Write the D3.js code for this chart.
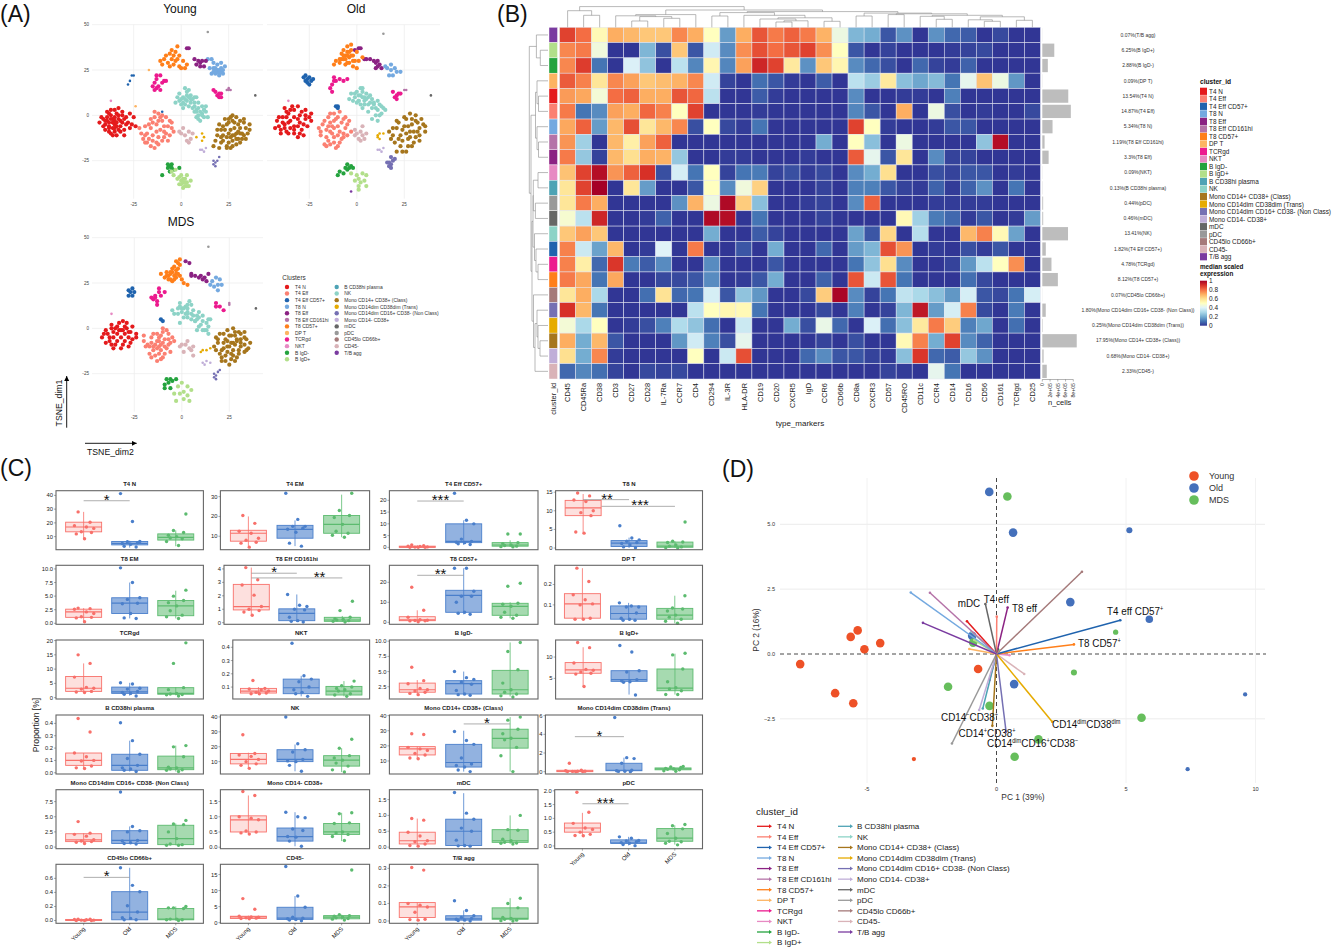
<!DOCTYPE html>
<html><head><meta charset="utf-8">
<script src="https://cdn.jsdelivr.net/npm/d3@7"></script>
<style>
html,body{margin:0;padding:0;background:#fff}
svg{display:block}
text{font-family:"Liberation Sans",Arial,sans-serif;fill:#111}
</style></head><body><svg id="c" width="1333" height="949"></svg>
<script>
/* ---------- shared ---------- */
const clusterNames=["T4 N","T4 Eff","T4 Eff CD57+","T8 N","T8 Eff","T8 Eff CD161hi","T8 CD57+","DP T","TCRgd","NKT","B IgD-","B IgD+","B CD38hi plasma","NK","Mono CD14+ CD38+ (Class)","Mono CD14dim CD38dim (Trans)","Mono CD14dim CD16+ CD38- (Non Class)","Mono CD14- CD38+","mDC","pDC","CD45lo CD66b+","CD45-","T/B agg"];
const clusterColors=["#e41a1c","#fb8072","#1f63ae","#74a9e0","#8b2283","#b573a8","#ff7f1a","#fdb462","#ec1a8e","#e78ac3","#24a33e","#b2df8a","#4ea3b5","#8dd3c7","#a6761d","#e6ab02","#7570b3","#c0aed8","#666666","#999999","#a57a7a","#d9b3b8","#7a3ba0"];
const clusterColor=d3.scaleOrdinal(clusterNames,clusterColors);

/* ---------- (A) t-SNE read-off points, flat x,y lists by cluster ---------- */
const tsneYoung={
"T4 N":[-36,-2,-38,-4,-35,-5,-33,-2,-37,0,-34,1,-31,-4,-39,-1,-36,-7,-33,-8,-40,-5,-37,-10,-34,-11,-30,-8,-29,-1,-31,2,-37,3,-33,4,-41,-2,-43,-4,-40,-8,-28,-4,-26,-5,-27,1,-35,-3,-32,-6,-38,-7,-24,-6,-30,-11,-25,-1,-39,-3,-37,-2,-35,-1,-33,0,-34,-4,-36,-4,-38,-6,-35,-7,-32,-3,-40,-3,-38,1,-35,3,-31,0,-29,-5,-32,-9,-35,-9,-38,-9,-41,-6,-27,-7,-30,-2,-39,2,-42,-1,-34,-6,-36,-11],
"T4 Eff":[-13,-5,-16,-7,-10,-3,-14,-1,-11,-8,-7,-6,-8,-10,-4,-9,-12,1,-16,-2,-8,-1,-18,-10,-15,-11,-20,-13,-18,-15,-16,-17,-21,-10,-13,-15,-10,-14,-7,-14,-19,-6,-5,-4,-22,-7,-12,-12,-14,-18,-12,-3,-15,-4,-9,-6,-6,-3,-11,-1,-13,-9,-9,-9,-5,-7,-17,-5,-17,-13,-19,-11,-15,-14,-12,-16,-9,-12,-6,-11,-14,2,-10,0,-19,-15],
"T4 Eff CD57+":[-26,22,-25,22,-27,19,-28,17,-10,2],
"T8 N":[19,25,17,26,21,26,19,28,16,23,20,22,22,23,18,23,23,27,15,26,21,29,17,29,14,31,16,31,19,24,21,24,18,26,20,25,18,24,22,25,17,24,20,23],
"T8 Eff":[8,28,10,29,12,27,11,30,9,30,13,30,7,31,10,27,3,37,4,37],
"T8 Eff CD161hi":[25,14,26,14,25,15,24,14],
"T8 CD57+":[-5,31,-7,29,-3,30,-9,31,-4,28,-1,27,0,26,2,26,-6,34,-3,35,-1,33,-8,33,-2,38,-5,36,1,30,3,28,-11,30,-10,28,-6,27,-2,31,-4,33],
"DP T":[-24,5,-17,25],
"TCRgd":[-13,15,-15,16,-11,14,-14,14,-12,16,-13,20,-11,22,-13,22,-9,19,-10,18,-14,18,-8,19,20,10,21,12,19,11,18,13,20,12,21,10,17,14],
"NKT":[-37,8],
"B IgD-":[-6,-28,-7,-29,-5,-29,-7,-27,-5,-27,-4,-30,-6,-31,-10,-33,-1,-29],
"B IgD+":[1,-37,0,-36,3,-37,-2,-35,-4,-33,2,-39,-1,-38,5,-36,-5,-31,2,-35,4,-39,1,-40,-3,-30,0,-33,3,-33,2,-37,0,-38,1,-35,3,-39,-1,-34],
"NK":[3,8,1,10,5,11,3,13,0,6,4,5,7,7,6,4,2,15,-2,10,-3,7,1,4,5,9,8,10,9,4,11,5,13,2,9,0,12,-1,10,-3,11,1,13,5,8,-1,14,-1,7,2,12,3,9,7,8,3,1,7,2,9,4,10,0,9,-1,8,5,7,2,6,6,9,3,11,7,10,10,2,12,3,11,0,8,2,9,-2,7,5,-1,12,4,14],
"Mono CD14+ CD38+ (Class)":[26,-8,29,-10,24,-12,27,-14,31,-7,33,-11,36,-8,28,-4,24,-5,21,-8,19,-11,18,-14,21,-15,24,-17,26,-18,29,-16,32,-13,34,-7,31,-3,27,0,29,-1,23,-2,20,-5,35,-10,22,-11,27,-11,30,-13,25,-15,20,-18,17,-17,31,-10,25,-2,33,-4,25,-10,28,-7,30,-9,27,-3,23,-8,26,-12,29,-13,32,-10,34,-13,22,-14,19,-8,25,-4,30,-5,33,-2,36,-5,24,-18,27,-17,28,-11,21,-12,31,-15,26,-1,22,-6],
"Mono CD14dim CD38dim (Trans)":[11,-10,12,-12,8,-12,11,-14],
"Mono CD14dim CD16+ CD38- (Non Class)":[18,-26,17,-27,18,-28,19,-25,20,-23,17,-25],
"Mono CD14- CD38+":[11,-19,12,-20,10,-19,13,-18],
"mDC":[39,11],"pDC":[14,46],
"CD45-":[0,-10,2,-11,4,-9,3,-14,5,-13,-1,-9,6,-10,4,-15,1,-7]};
const tsneOld={
"T4 N":[-38,-5,-35,-3,-41,-6,-33,-6,-30,-4,-27,-2,-36,1,-33,3,-30,0,-39,-1,-42,-3,-37,-9,-33,-10,-29,-8,-26,-6,-24,-3,-35,-7,-31,5,-27,3,-24,1,-38,4,-43,-7,-31,-12,-40,-10,-36,-4,-39,-4,-37,-1,-33,-1,-31,-2,-28,-5,-35,3,-29,2,-33,-8,-36,-10,-40,-8,-27,0,-31,-6,-41,-1,-37,2,-34,5,-25,-1,-30,-10,-28,-11,-38,-7],
"T4 Eff":[-12,-7,-14,-4,-9,-9,-11,-2,-16,-8,-8,-4,-6,-7,-5,-11,-9,2,-12,1,-15,-1,-18,-5,-20,-7,-16,-12,-12,-12,-8,-13,-14,-16,-17,-16,-10,-17,-6,-1,-13,-10,-19,-11,-7,-10,-10,-6,-13,-6,-15,-6,-12,-3,-7,-2,-5,-5,-10,-1,-17,-3,-19,-9,-14,-9,-10,-11,-7,-12,-15,-14,-12,-15,-9,-15,-11,-18,-16,-17,-3,-9,-4,-3,-14,1],
"T4 Eff CD57+":[-26,20,-25,21,-27,19,-24,19,-28,21,-26,18,-25,17,-23,20,-27,22,-10,5,-11,5,-10,4],
"T8 N":[18,25,20,26,17,22,19,22,21,24,16,26,23,24,18,28,15,27],
"T8 Eff":[10,29,11,27,10,26,9,30,12,28,13,26,7,31,5,31,4,31,11,30,-1,36,1,37,2,37],
"T8 Eff CD161hi":[25,14,26,14],
"T8 CD57+":[-6,33,-5,35,-7,31,-4,32,-8,34,-3,36,-5,38,-3,39,-2,33,-4,29,-9,29,-11,30,-12,28,-6,28,-2,27,0,26,1,30,-1,30,3,32,-7,36,0,35,-9,31,-5,33,-6,31,-3,33,-4,35,-7,33,-2,30,-5,29,-8,31],
"TCRgd":[-11,19,-12,21,-13,17,-14,15,-13,13,-9,20,-7,19,-5,20,-12,19,21,11,20,10,22,12,19,13,21,9,23,12],
"NKT":[-36,8],
"B IgD-":[-4,-29,-6,-29,-3,-28,-5,-27,-2,-29,-9,-31,-7,-32,-10,-33,-5,-30],
"B IgD+":[1,-35,2,-37,0,-33,4,-36,1,-39,5,-33,-1,-36,3,-32,-3,-32,1,-41,5,-39],
"NK":[1,11,3,13,-1,10,4,8,0,7,2,15,-3,12,5,12,6,6,8,9,3,4,6,2,10,4,12,6,14,4,13,1,10,0,8,-2,11,-3,-4,9,7,11,1,8,4,10,9,6,2,11,0,13,3,10,-2,8,5,9,1,8,4,6,6,10,7,7,8,4,-1,12,2,6,9,7,11,3,12,0,13,5,11,8,15,3,3,15],
"Mono CD14+ CD38+ (Class)":[28,-9,25,-6,31,-12,23,-11,33,-7,36,-9,29,-2,26,-2,21,-7,19,-11,17,-9,20,-15,23,-17,26,-20,29,-17,33,-14,35,-5,31,-3,27,-13,32,-9,22,-4,28,1,24,-20,21,-20,24,-8,27,-6,30,-9,33,-11,36,-6,32,-4,24,-14,27,-17,30,-15,22,-13,19,-7,21,-3,25,-1,31,0,34,-2,28,-12,26,-10,29,-5,18,-13],
"Mono CD14dim CD38dim (Trans)":[11,-11,12,-13,11,-12,14,-10,12,-10],
"Mono CD14dim CD16+ CD38- (Non Class)":[17,-26,18,-27,17,-28,19,-25,18,-23,16,-26,18,-29,20,-24],
"Mono CD14- CD38+":[11,-19,12,-19,13,-20,14,-18],
"mDC":[39,11],"pDC":[14,45],"T/B agg":[-3,-42],
"CD45-":[0,-10,2,-9,-1,-8,3,-11,1,-13,4,-13,3,-6,-1,-11,2,-14,5,-10]};
const tsneMDS={
"T4 N":[-32,-1,-29,0,-34,-3,-30,-3,-27,-2,-36,-2,-40,-1,-42,-5,-38,-5,-34,-7,-30,-7,-26,-6,-33,3,-29,3,-26,1,-37,2,-24,-3,-37,-9,-32,-11,-40,-8,-28,-10,-33,-1,-31,-1,-35,0,-28,-2,-36,-5,-32,-5,-28,-5,-39,-3,-41,-3,-35,-9,-31,-9,-27,-8,-34,1,-30,1,-31,4,-36,-11,-38,-7,-24,-5,-37,0],
"T4 Eff":[-11,-9,-13,-7,-9,-6,-15,-10,-11,-12,-8,-11,-6,-8,-4,-7,-10,-2,-13,-3,-16,-5,-7,-3,-18,-9,-20,-7,-14,-15,-10,-16,-17,-14,-6,-13,-13,-18,-10,0,-13,-11,-12,-7,-10,-8,-14,-9,-12,-10,-9,-10,-7,-9,-16,-8,-12,-5,-15,-12,-12,-14,-9,-14,-7,-6,-5,-5,-17,-10,-19,-10,-11,-4,-8,-1,-15,-3,-11,-17,-16,-16,-20,-4],
"T4 Eff CD57+":[-27,20,-28,18,-26,22,-28,21,-26,18,-25,20,-11,5,-10,4],
"T8 N":[17,23,19,24,16,26,20,27,21,24,18,28,19,21,15,24],
"T8 Eff":[9,28,11,27,10,29,12,28,13,26,5,30,5,29,7,29,14,30,2,37,4,36],
"T8 Eff CD161hi":[25,14,25,13],
"T8 CD57+":[-7,29,-5,31,-8,31,-3,30,-6,27,-2,33,-4,34,-2,36,-3,37,-11,30,-9,28,-5,26,-1,29,0,27,1,25,3,24,-3,28,-1,38,-6,30,-4,29,-7,27,-5,33,-3,32,-8,29,-6,31,-2,30,-4,27,-1,35],
"TCRgd":[-12,20,-14,18,-11,18,-12,22,-15,16,-13,15,-16,17,-9,20,-13,13,-14,17,18,14,20,12,22,10,18,12],
"NKT":[-37,8],
"B IgD-":[-9,-31,-7,-30,-6,-28,-5,-29,-8,-28,-3,-28,-9,-33,-6,-33],
"B IgD+":[1,-35,3,-37,-2,-32,3,-32,1,-39,5,-34,-1,-36,-4,-36,4,-40,0,-30,-3,-40],
"NK":[2,12,0,11,-5,10,3,8,-2,8,5,13,1,6,4,15,6,10,8,7,5,5,-1,14,9,9,11,4,9,1,12,-1,14,1,15,5,11,7,8,-1,14,-3,-1,3,7,4,3,9,1,11,3,11,-2,11,-4,8,0,9,2,8,5,8,3,6,7,4,6,7,9,6,10,2,13,3,-1,12,3,13,11,-1,13,-1,14,5,8,5],
"Mono CD14+ CD38+ (Class)":[26,-8,23,-6,29,-7,31,-10,27,-12,22,-11,19,-8,17,-10,20,-14,23,-15,26,-17,30,-14,34,-12,36,-8,33,-5,30,-2,27,0,24,-1,20,-3,18,-5,24,-10,28,-4,33,-9,25,-20,28,-18,21,-18,31,-6,25,-10,22,-8,28,-9,30,-12,26,-14,24,-13,21,-12,18,-12,19,-6,22,-3,25,-4,28,-2,31,-3,34,-6,35,-11,33,-13,29,-16,27,-15,23,-18,29,-6,27,-8,31,-8,24,-7,21,-16,26,-4,33,-2],
"Mono CD14dim CD38dim (Trans)":[11,-12,13,-12,15,-11,10,-13],
"Mono CD14dim CD16+ CD38- (Non Class)":[18,-26,17,-27,18,-28,19,-24,20,-23,17,-25],
"Mono CD14- CD38+":[11,-19,12,-20,13,-18,15,-19],
"mDC":[39,11],"pDC":[14,45],
"CD45-":[0,-9,2,-9,4,-11,5,-12,3,-7,6,-15,6,-10,-1,-10,1,-13]};
const tsnePanels=[["Young",tsneYoung],["Old",tsneOld],["MDS",tsneMDS]];
const tsneTicks=[-25,0,25];
const tsneYTicks=[50,25,0,-25];

/* ---------- (B) heatmap ---------- */
const markers=["CD45","CD45Ra","CD38","CD3","CD27","CD28","IL-7Ra","CCR7","CD4","CD294","IL-3R","HLA-DR","CD19","CD20","CXCR5","IgD","CCR6","CD66b","CD8a","CXCR3","CD57","CD45RO","CD11c","CCR4","CD14","CD16","CD56","CD161","TCRgd","CD25"];
const heatRows=["T/B agg","B IgD+","B IgD-","DP T","T4 N","T4 Eff","T8 N","T8 Eff CD161hi","T8 Eff","NKT","B CD38hi plasma","pDC","mDC","NK","T4 Eff CD57+","TCRgd","T8 CD57+","CD45lo CD66b+","Mono CD14dim CD16+ CD38- (Non Class)","Mono CD14dim CD38dim (Trans)","Mono CD14+ CD38+ (Class)","Mono CD14- CD38+","CD45-"];
const heatPct=["0.07","6.25","2.88","0.09","13.54","14.87","5.34","1.19","3.3","0.09","0.13","0.44","0.46","13.41","1.82","4.78","8.12","0.07","1.80","0.25","17.95","0.68","2.33"];
const heatValues=[
[.87,.8,.52,.7,.68,.65,.65,.76,.7,.5,.17,.7,.84,.78,.82,.78,.69,.44,.22,.2,.05,.15,0,.15,.08,.06,0,.03,0,0],
[.76,.78,.45,0,0,.22,.04,.65,.05,.37,.14,.75,.85,.8,.84,.87,.75,.5,.05,0,.02,0,0,0,.01,.02,.03,0,0,0],
[.76,.88,.1,0,.39,.25,0,.33,.13,.53,.13,.72,.92,.87,.57,.15,.65,.53,.14,.08,.04,0,.08,.02,.01,.07,0,0,0,0],
[.83,.77,.58,.76,.72,.65,.67,.69,.76,.37,.02,0,.09,.05,.01,0,.06,0,.33,.27,.57,.24,.19,.23,.1,.42,.66,.44,.16,0],
[.73,.71,.46,.8,.82,.7,.7,.84,.81,.33,0,0,.06,.01,0,0,0,0,.14,0,0,.01,.01,0,.12,0,0,0,0,0],
[.78,.1,.14,.72,.7,.81,.77,.5,.87,0,0,0,.01,0,0,0,0,0,.13,.05,0,.7,0,.44,.04,0,.01,0,0,.03],
[.71,.82,.17,.68,.85,.58,.68,.76,.04,.5,.03,.01,.1,0,0,0,0,0,.87,.5,.01,0,0,.01,.05,.05,0,0,0,0],
[.74,.28,0,.68,.55,.72,.82,0,0,0,0,0,0,0,0,0,.2,0,.5,.24,0,.44,0,0,0,0,.25,.97,0,0],
[.78,.26,.02,.68,.6,.7,.69,.26,0,0,.01,.01,0,0,0,.01,0,0,.83,.42,.05,.58,0,.14,.02,.02,0,0,0,0],
[.66,.87,.97,.74,.82,.9,.04,.38,.1,.5,.02,.1,.11,.02,.04,.01,.03,0,.14,.2,.6,0,0,.04,.02,.05,.05,0,.01,0],
[.58,.87,1,0,.58,.17,0,0,.05,.5,.14,.45,.63,0,0,0,.02,0,.12,.12,.05,.02,.01,.07,.01,.07,.15,0,.1,0],
[.58,.78,.7,0,0,0,0,.15,.69,.44,.98,.64,.24,0,0,.01,.02,0,.14,.82,0,0,0,.01,.01,.01,.01,0,0,0],
[.47,.33,.92,0,0,.01,.07,0,0,.98,.97,0,.1,0,0,0,.02,0,0,0,0,.52,.28,.11,.08,.01,.05,0,.01,.17],
[.65,.72,.65,0,0,0,0,0,0,.2,0,0,.06,.02,0,0,0,0,.18,.05,.62,0,.32,0,0,.68,.77,.52,.18,0],
[.77,.36,.18,.68,0,.01,.4,0,.78,0,0,.05,0,.2,0,0,.08,0,.17,.22,.85,.74,0,.01,0,.04,.01,.05,0,0],
[.77,.55,.08,.89,.11,.06,.14,0,0,.14,0,0,0,.05,0,0,0,0,.1,.25,.6,.14,0,0,.02,.16,.33,.5,.75,0],
[.78,.71,.1,.71,0,0,.03,.03,.05,.14,0,.01,.05,.2,0,0,.07,0,.84,.36,.84,.1,0,0,0,.09,.03,0,0,0],
[.58,.7,.3,0,0,.09,.59,.08,.1,.38,.05,.25,.16,0,0,.03,.64,.99,.14,.02,.1,.34,.3,.24,.16,.38,.05,.03,.1,.38],
[.9,.68,.1,0,0,0,0,0,.33,.5,.53,.52,.1,0,0,0,.03,0,.12,0,.02,.22,.95,.17,.38,.77,.03,0,.11,0],
[.46,.3,.5,0,.01,.04,.12,.31,.25,.09,0,.36,0,0,.2,.04,.43,.08,0,.39,.09,.24,.57,.78,.64,.12,.19,0,.09,0],
[.7,.2,.68,.05,0,0,0,.16,.37,.12,.04,.42,0,0,0,0,.02,0,.04,0,0,.52,.77,.2,.87,.14,.07,0,0,0],
[.6,.2,.76,.01,0,0,0,0,.5,0,.36,.85,0,0,0,.08,.14,.05,.05,.02,.01,.24,.89,.08,.06,.26,.15,0,0,0],
[.08,.13,.09,.02,0,.03,.02,.03,0,0,0,0,0,0,0,0,0,0,0,0,.02,.01,0,.42,.1,0,0,0,0,0]];
const heatStops=["#313695","#4575b4","#74add1","#abd9e9","#e0f3f8","#ffffbf","#fee090","#fdae61","#f46d43","#d73027","#a50026"];
const cellsPerPct=49500;
const cellTicks=[0,2e5,4e5,6e5,8e5];
const legendTicks=[0,.2,.4,.6,.8,1];
/* dendrograms: [merge height, left, right]; numbers are leaves */
const colTree=[20.7,[16.6,0,[12,1,2]],[17.3,[12.7,[11.5,3,[10.7,[6.3,4,5],[9,6,7]]],8],[15.7,[14.7,[11.3,9,10],[12,11,[9.5,[8.3,12,[6.5,[5.3,13,14],15]],[6,16,17]]]],[14.2,[11.3,18,19],[13.5,[12.7,20,21],[12,[11,22,[8,23,24]],[10.5,[7.5,25,[6,26,27]],[7,28,29]]]]]]]];
const rowTree=[18.7,[11.6,0,[7.7,1,2]],[17,[12.5,[11,3,[9.5,4,5]],[11,6,[9.5,7,8]]],[16,[15,[14.7,[10,9,10],[12.6,11,12]],[13.5,13,[12,14,[10,15,16]]]],[14.5,17,[13,[11,18,[10,19,[8,20,21]]],22]]]]];

/* ---------- (C) proportions: [whisker low,q1,median,q3,whisker high] and points for Young,Old,MDS ---------- */
const groups=["Young","Old","MDS"];
const groupColors=["#f8706a","#4a7fcb","#5cbb6f"];
const jitter=[-.12,.14,-.2,.06,.22,-.05,.17,-.16,.02];
const facetNames=["T4 N","T4  EM","T4 Eff CD57+","T8 N","T8 EM","T8 Eff CD161hi","T8 CD57+","DP T","TCRgd","NKT","B IgD-","B IgD+","B CD38hi plasma","NK","Mono CD14+ CD38+ (Class)","Mono CD14dim CD38dim (Trans)","Mono CD14dim CD16+ CD38- (Non Class)","Mono CD14- CD38+","mDC","pDC","CD45lo CD66b+","CD45-","T/B agg"];
const facetDomains=[[.5,43.4],[3.2,33],[-1,24.1],[-.45,15.4],[-.18,10.67],[-.12,4.27],[-1,28.5],[.005,.294],[-.47,20.2],[.01,.455],[.48,10.2],[.16,14],[-.01,.468],[1.7,41.3],[1.4,40.4],[-.25,6.07],[-.27,9.47],[-.05,1.89],[-.05,1.81],[-.1,2.04],[-.04,.8],[-.2,18.2],[-.013,.323]];
const facetTicks=[[10,20,30,40],[10,20,30],[0,5,10,15,20],[0,5,10,15],[0,2.5,5,7.5,10],[0,1,2,3,4],[0,10,20],[.1,.2],[0,5,10,15,20],[.1,.2,.3,.4],[2.5,5,7.5,10],[5,10],[0,.1,.2,.3,.4],[10,20,30,40],[10,20,30,40],[0,2,4,6],[0,2.5,5,7.5],[0,.5,1,1.5],[0,.5,1,1.5],[0,.5,1,1.5,2],[0,.2,.4,.6],[0,5,10,15],[0,.1,.2,.3]];
const facetTickFmt=[0,0,0,0,1,0,0,1,0,1,1,0,1,0,0,0,1,1,1,1,1,0,1];
const facetBoxes=[
[[8,13.5,17,20.5,28],[2,4,5,6.5,7],[3,7.5,9.5,12,14.5]],
[[4.5,7.5,11.5,13,20],[5,9,13.5,15.5,18],[9.5,11.5,16,20.5,31]],
[[0,0,.2,.5,1],[1,2,2.5,10,11.5],[.2,.5,1,2,3]],
[[4,8.7,10.8,12.8,14.5],[0,.4,1.3,2,2.8],[0,.2,.5,1.6,1.8]],
[[.3,1.1,2.1,2.6,2.8],[.9,1.8,3.7,4.7,7.5],[.9,1.4,3.2,4.2,6]],
[[.6,.95,1.2,2.85,4.1],[.05,.15,.7,1.03,2.1],[.05,.1,.2,.4,.5]],
[[.5,.8,1.2,2.8,6],[4,5,13.5,16,27],[2,3.5,8,9.5,10]],
[[.03,.035,.105,.155,.28],[.025,.03,.058,.095,.11],[.01,.03,.05,.083,.145]],
[[2,2.2,3.3,7.4,12],[.7,1.5,2,3.7,5.2],[.8,1.2,1.5,3.5,3.7]],
[[.05,.055,.07,.09,.1],[.03,.05,.095,.16,.185],[.03,.04,.07,.105,.145]],
[[1.2,1.6,2,3.1,3.6],[1.1,1.3,3,3.5,5],[.9,1.3,2,5.2,9.8]],
[[3,6.2,7,8.7,12.3],[1.2,4.3,4.7,6.8,6.8],[1.2,2.1,2.7,7.2,10.8]],
[[.03,.06,.1,.16,.16],[.01,.02,.06,.15,.26],[.01,.025,.04,.135,.22]],
[[5.5,8.5,11.5,15.5,16],[3.5,10,11.5,18,21.5],[3,7,11,14,19]],
[[11.5,14,18,19.5,19.5],[3,6,9,21,30],[3,18.5,25,31,39]],
[[0,0,.05,.15,.2],[0,.1,.15,.9,1.5],[.1,.2,.3,.4,.5]],
[[.6,.9,1.2,2.2,2.3],[.5,.6,1.1,2.7,3.4],[.3,.4,1.4,3.6,3.9]],
[[.45,.5,.9,1.03,1.7],[.03,.2,.35,.63,1.15],[.2,.42,.5,.78,1.13]],
[[.05,.1,.2,.47,.9],[.03,.05,.5,.88,1.7],[.1,.15,.2,.55,1]],
[[.35,.5,.65,.83,1.2],[.02,.1,.1,.22,.33],[.05,.17,.28,.63,.75]],
[[0,0,.005,.015,.02],[.01,.01,.12,.41,.75],[0,.01,.02,.17,.2]],
[[1,1.3,1.8,2,2.2],[.6,1,1.4,4.8,8.3],[1,1.2,1.7,2.2,2.5]],
[[.005,.02,.08,.105,.105],[0,.005,.012,.03,.06],[0,.01,.015,.075,.13]]];
const facetPoints=[
[[28,20.5,18,17,16,13.5,13,12,8.5],[41.3,21,6.5,6.3,5.5,5,4.5,3,2.5],[26.5,14.5,13,11,10,9,8.5,6.5,3.5]],
[[20.5,16.5,12.5,11.5,9,8,7,6.5,4.5],[31.7,18.5,15,15,14,13.5,12,6.5,5],[31.7,23,20.5,19.5,16,12.5,11.5,10.5,9.5]],
[[1,.7,.5,.4,.2,.1,0,0,0],[23,11.5,10,3.5,2.5,2.2,2,1.5,1.2],[5.7,5.7,2,1.5,1,.8,.5,.3,.2]],
[[14.8,14,12.9,12.5,10,9.5,8.7,4.3,4],[6,2.7,2.2,1.8,1.5,1.2,.8,.3,.1],[7,1.8,1.6,1.5,.8,.5,.3,.1,0]],
[[2.8,2.7,2.6,2.1,1.8,1.2,1.1,1,.3],[10.2,7.5,4.7,4.4,3.7,3.6,1.8,1,.9],[6.1,5,4.2,3.8,3.2,2.3,1.5,1.2,.9]],
[[4.1,3.2,2.8,2.05,1.2,1,.9,.8,.55],[2.1,1.3,1.2,1,.95,.4,.15,.1,.05],[1.6,.9,.4,.3,.25,.2,.15,.1,.05]],
[[17.5,6,2.5,1.3,1,.9,.8,.7,.3],[27,27,15.5,13,13,10,5,4.5,4],[19.5,18,9.5,9,8,5,3.5,2.5,2]],
[[.28,.215,.15,.125,.105,.1,.035,.03,.03],[.11,.095,.09,.09,.06,.035,.03,.025,.025],[.145,.085,.08,.07,.05,.04,.03,.02,.01]],
[[15,12,7.2,3.6,3.3,3,2.2,2,1.8],[5.2,4.8,3.3,3,2.2,1.8,1.5,1.2,.6],[19.2,12,3.5,2.8,1.5,1.3,1.1,1,.6]],
[[.15,.09,.085,.08,.07,.06,.055,.05,.05],[.43,.185,.16,.14,.1,.08,.06,.05,.03],[.145,.11,.1,.09,.08,.07,.05,.04,.03]],
[[5.7,3.5,3,2.2,2,1.8,1.6,1.4,1.2],[5,4,3.7,3.3,2.9,1.9,1.3,1.2,1.1],[9.8,8.3,5.3,3.1,2,1.6,1.3,1,.8]],
[[13.4,12.2,8.6,7.1,6.9,6.5,6.2,6,3.1],[12.7,11.2,6.8,6.5,4.7,4.4,4.2,4.1,1.1],[10.9,10.5,7.2,4.2,2.8,2.5,2.1,1.2,1.2]],
[[.44,.33,.16,.13,.1,.095,.055,.04,.035],[.405,.26,.15,.115,.06,.04,.03,.02,.01],[.22,.21,.13,.045,.04,.03,.025,.02,.01]],
[[28,15.5,14.5,13.5,11.5,10,8.5,7.5,5.5],[40,22,18,16.5,11.5,10.5,10,7.5,3.5],[25,19,14,12.5,11,9,7,4.5,3]],
[[28,27.5,19,18,17,15,14,12,11.5],[29.5,23.5,21,12,8,7,6,4,3],[39,37,31,28,25,24,19,13.5,3]],
[[.9,.15,.1,.05,.05,.03,.02,.01,0],[5.8,1.5,1.4,.9,.15,.1,.05,.03,0],[.55,.5,.45,.35,.3,.25,.2,.1,.05]],
[[4.2,2.3,2.1,1.8,1.2,1,.9,.8,.6],[9.1,3.4,2.7,2.5,1.1,1,.7,.6,.5],[4.4,3.8,3.7,2.5,1.4,.5,.4,.3,.3]],
[[1.83,1.7,1,.95,.9,.53,.5,.47,.43],[1.15,1,.97,.6,.55,.35,.33,.2,.03],[1.13,1.1,.8,.78,.5,.47,.42,.35,.22]],
[[.9,.85,.47,.35,.2,.17,.1,.05,.03],[1.72,1.07,.88,.6,.5,.22,.05,.04,.03],[1,.55,.53,.25,.2,.15,.13,.12,.1]],
[[1.95,1.22,.82,.65,.6,.5,.42,.38,.37],[.33,.28,.2,.18,.15,.12,.1,.05,.01],[.78,.73,.62,.45,.28,.17,.15,.1,.04]],
[[.02,.02,.015,.01,.005,.005,0,0,0],[.75,.5,.41,.21,.12,.04,.03,.01,.01],[.2,.18,.17,.18,.02,.02,.01,.01,0]],
[[7.5,4.2,2,1.8,1.7,1.5,1.4,1.3,1.2],[17.5,8.3,4.8,1.7,1.4,1.2,1,.8,.6],[16.4,2.5,2.2,2,1.7,1.5,1.3,1.1,.8]],
[[.305,.29,.1,.09,.08,.05,.01,.008,.005],[.115,.06,.03,.02,.015,.01,.005,.003,0],[.13,.1,.075,.02,.015,.01,.005,.002,0]]];
/* significance: facet index, y value, from group, to group, stars, star position in group units */
const sigBars=[[0,36.1,0,1,"*",.5],[2,19.7,0,1,"***",.5],[3,13,0,1,"**",.52],[3,11.2,.4,2,"***",1.24],[5,3.68,0,1,"*",.5],[5,3.33,0,2,"**",1.5],[6,23.5,0,1,"**",.5],[14,34.5,1,2,"*",1.5],[15,3.75,0,1,"*",.5],[19,1.53,0,1,"***",.5],[20,.614,0,1,"*",.5]];

/* ---------- (D) PCA ---------- */
const pcaGroups=["Young","Old","MDS"];
const pcaColors=["#ee5127","#4470bb","#66be5c"];
const pcaYoung=[[-7.58,-.39,4],[-6.23,-1.51,4],[-5.53,-1.9,4],[-5.63,.66,4],[-5.36,.91,4],[-5.1,.18,4],[-4.49,.42,4],[-.71,-.58,4],[-3.19,-4.05,1]];
const pcaOld=[[-.28,6.25,4],[.64,4.68,4],[5.13,4.77,2],[2.85,2,4],[5.9,1.34,3],[-.94,.7,4],[.68,-1.16,4],[9.6,-1.56,1],[7.38,-4.44,1]];
const pcaMDS=[[.42,6.07,4],[4.6,.84,1.5],[2.99,-.71,2],[-1.87,-1.26,4],[-.27,-2,4],[-.9,.44,4],[5.6,-2.46,4],[1.62,-3.29,4],[.7,-3.96,4]];
const pcaLoadNames=["NK","B IgD+","B IgD-","NKT","CD45-","TCRgd","B CD38hi plasma","Mono CD14- CD38+","pDC","Mono CD14+ CD38+ (Class)","Mono CD14dim CD16+ CD38- (Non Class)","Mono CD14dim CD38dim (Trans)","DP T","T8 CD57+","T4 Eff CD57+","T8 Eff","T4 Eff","mDC","T4 N","CD45lo CD66b+","T8 Eff CD161hi","T8 N","T/B agg"];
const pcaLoadX=[-.97,-.86,.06,.5,1.07,-.27,-.53,-.67,-1.72,-.16,.37,2.15,-1.05,2.99,4.78,.43,.01,-.43,-1.14,3.3,-2.57,-3.31,-2.84];
const pcaLoadY=[.86,.54,.18,-.05,-.77,-1,-2.1,-2.16,-3.45,-2.77,-3,-2.61,.19,.37,1.3,1.79,1.44,1.93,1.26,3.17,2.36,2.37,1.2];
const pcaXTicks=[-5,0,5,10];
const pcaYTicks=[5,2.5,0,-2.5];

/* ---------- drawing ---------- */
const svg=d3.select("#c");
const addText=(g,x,y,s,size,o={})=>{const t=g.append("text").attr("x",x).attr("y",y).text(s).style("font-size",size+"px");
  if(o.anchor)t.attr("text-anchor",o.anchor);if(o.rot!=null)t.attr("transform",`rotate(${o.rot} ${x} ${y})`);
  if(o.weight)t.style("font-weight",o.weight);if(o.fill)t.style("fill",o.fill);return t;};

[["(A)",0,22],["(B)",497,22],["(C)",0,476],["(D)",722,477]].forEach(d=>addText(svg,d[1],d[2],d[0],23));

/* (A) */
const tsneLayout=[{x0:133.7,y0:24.7,l:92,r:263,tx:180,ty:13},{x0:309.3,y0:24.7,l:267,r:440,tx:356,ty:13},{x0:134.3,y0:237.7,l:92,r:263,tx:181,ty:226}];
tsnePanels.forEach(([name,data],pi)=>{
  const L=tsneLayout[pi],g=svg.append("g");
  const x=d3.scaleLinear().domain([-25,25]).range([L.x0,L.x0+95]);
  const y=d3.scaleLinear().domain([50,-25]).range([L.y0,L.y0+136]);
  tsneYTicks.forEach(t=>g.append("line").attr("x1",L.l).attr("x2",L.r).attr("y1",y(t)).attr("y2",y(t)).attr("stroke","#ededed").attr("stroke-width",.8));
  tsneTicks.forEach(t=>{g.append("line").attr("x1",x(t)).attr("x2",x(t)).attr("y1",L.y0).attr("y2",L.y0+174).attr("stroke","#ededed").attr("stroke-width",.8);
    addText(g,x(t),L.y0+181,t,4.6,{anchor:"middle",fill:"#444"});});
  if(pi!==1)tsneYTicks.forEach(t=>addText(g,L.l-3,y(t)+1.6,t,4.6,{anchor:"end",fill:"#444"}));
  addText(svg,L.tx,L.ty,name,12,{anchor:"middle"});
  Object.entries(data).forEach(([c,pts])=>{
    const big=pts.length>14;
    for(let i=0;i<pts.length;i+=2)
      g.append("circle").attr("cx",x(pts[i])).attr("cy",y(pts[i+1])).attr("r",big?2.1:1.3).attr("fill",clusterColor(c));
  });
});
const arrowMark=svg.append("defs").append("marker").attr("id","ah").attr("markerWidth",6).attr("markerHeight",6).attr("refX",5).attr("refY",2.5).attr("orient","auto").attr("markerUnits","userSpaceOnUse");
arrowMark.append("path").attr("d","M0,0L5,2.5L0,5Z").attr("fill","#000");
svg.append("line").attr("x1",66.7).attr("x2",66.7).attr("y1",427.7).attr("y2",376).attr("stroke","#000").attr("stroke-width",.9).attr("marker-end","url(#ah)");
svg.append("line").attr("x1",85).attr("x2",136.7).attr("y1",443.3).attr("y2",443.3).attr("stroke","#000").attr("stroke-width",.9).attr("marker-end","url(#ah)");
addText(svg,62,403,"TSNE_dim1",8.7,{anchor:"middle",rot:-90});
addText(svg,87,454.5,"TSNE_dim2",8.7);
addText(svg,282.3,280,"Clusters",6.4,{fill:"#333"});
clusterNames.forEach((n,i)=>{const col=i<12?0:1,r=col?i-12:i;
  const cx=col?336.7:287,yy=287+r*6.57;
  svg.append("circle").attr("cx",cx).attr("cy",yy).attr("r",2.2).attr("fill",clusterColor(n));
  addText(svg,col?344.3:295,yy+1.8,n,4.95,{fill:"#333"});
});

/* (B) */
const hm=svg.append("g");
const hx=d3.scaleBand().domain(markers).range([559.6,1040.4]);
const hy=d3.scaleBand().domain(heatRows).range([27.3,379]);
const heatColor=d3.scaleLinear().domain(heatStops.map((_,i)=>i/10)).range(heatStops);
heatValues.forEach((row,ri)=>row.forEach((v,ci)=>{
  hm.append("rect").attr("x",hx(markers[ci])).attr("y",hy(heatRows[ri])).attr("width",hx.bandwidth()).attr("height",hy.bandwidth())
    .attr("fill",heatColor(v)).attr("stroke","#e4e6f2").attr("stroke-width",.5);
}));
heatRows.forEach(r=>hm.append("rect").attr("x",549).attr("y",hy(r)).attr("width",8.5).attr("height",hy.bandwidth()).attr("fill",clusterColor(r)).attr("stroke","#fff").attr("stroke-width",.4));
markers.forEach(m=>addText(hm,hx(m)+hx.bandwidth()/2+2.6,383,m,7.4,{anchor:"end",rot:-90,fill:"#222"}));
addText(hm,555.5,383,"cluster_id",7.4,{anchor:"end",rot:-90,fill:"#222"});
addText(hm,800,426,"type_markers",8,{anchor:"middle",fill:"#222"});
/* dendrograms */
function layoutTree(t,pos){ if(typeof t==="number")return{c:pos(t),h:0,seg:[]};
  const a=layoutTree(t[1],pos),b=layoutTree(t[2],pos);
  return{c:(a.c+b.c)/2,h:t[0],seg:[...a.seg,...b.seg,[a.c,a.h,a.c,t[0]],[a.c,t[0],b.c,t[0]],[b.c,b.h,b.c,t[0]]]};}
const colCenter=i=>hx(markers[i])+hx.bandwidth()/2, rowCenter=i=>hy(heatRows[i])+hy.bandwidth()/2;
layoutTree(colTree,colCenter).seg.forEach(s=>hm.append("line").attr("x1",s[0]).attr("x2",s[2]).attr("y1",27.3-s[1]).attr("y2",27.3-s[3]).attr("stroke","#8a8a8a").attr("stroke-width",.6));
layoutTree(rowTree,rowCenter).seg.forEach(s=>hm.append("line").attr("y1",s[0]).attr("y2",s[2]).attr("x1",548-s[1]).attr("x2",548-s[3]).attr("stroke","#8a8a8a").attr("stroke-width",.6));
/* n_cells */
const nx=d3.scaleLinear().domain([0,8e5]).range([1042.3,1073.3]);
heatRows.forEach((r,i)=>{const v=+heatPct[i]*cellsPerPct;
  hm.append("rect").attr("x",nx(0)).attr("y",hy(r)+1).attr("width",nx(v)-nx(0)).attr("height",hy.bandwidth()-2).attr("fill","#bdbdbd");
  addText(hm,1138,hy(r)+hy.bandwidth()/2+1.7,`${heatPct[i]}%(${r})`,5,{anchor:"middle",fill:"#333"});
});
cellTicks.forEach(t=>{hm.append("line").attr("x1",nx(t)).attr("x2",nx(t)).attr("y1",379.5).attr("y2",381.5).attr("stroke","#444").attr("stroke-width",.4);
  addText(hm,nx(t)+1.8,383,t===0?"0":`${t/1e5}e+05`,5.2,{anchor:"end",rot:-90,fill:"#333"});});
hm.append("line").attr("x1",nx(0)).attr("x2",nx(8e5)).attr("y1",379.5).attr("y2",379.5).attr("stroke","#444").attr("stroke-width",.4);
addText(hm,1048,405,"n_cells",7.5,{fill:"#222"});
addText(hm,1200,84,"cluster_id",6.6,{weight:"bold"});
clusterNames.forEach((n,i)=>{const yy=87.7+i*7.52;
  hm.append("rect").attr("x",1200).attr("y",yy).attr("width",7).attr("height",7.2).attr("fill",clusterColor(n));
  addText(hm,1209,yy+6,n,6.4,{fill:"#222"});});
addText(hm,1200,269,"median scaled",6.3,{weight:"bold"});addText(hm,1200,276,"expression",6.3,{weight:"bold"});
const grad=svg.append("defs").append("linearGradient").attr("id","hg").attr("x1",0).attr("x2",0).attr("y1",1).attr("y2",0);
heatStops.forEach((c,i)=>grad.append("stop").attr("offset",i*10+"%").attr("stop-color",c));
const lgY=d3.scaleLinear().domain([0,1]).range([325.7,280.7]);
hm.append("rect").attr("x",1200).attr("y",lgY(1)).attr("width",7).attr("height",lgY(0)-lgY(1)).attr("fill","url(#hg)");
legendTicks.forEach(t=>addText(hm,1209,lgY(t)+2.2,t,6.5,{fill:"#222"}));

/* (C) */
const colL=[[56,220.4,389.4,555.6],[56,224,389.4,554.7],[56,232.8,389.4,555.6],[56,220.4,389.4,545.4],[56,220.4,389.4,554.7],[56,220.4,389.4]];
const colR=[203.4,369.6,538,702.5];
const rowT=[490.7,565.3,640,715,789.7,864.3],rowH=59;
facetNames.forEach((name,f)=>{
  const rn=Math.floor(f/4),cn=f%4,L=colL[rn][cn],R=colR[cn],T=rowT[rn],g=svg.append("g");
  const x=d3.scalePoint().domain([0,1,2]).range([L,R]).padding(.6);
  const ux=d3.scaleLinear().domain([0,2]).range([x(0),x(2)]);
  const y=d3.scaleLinear().domain(facetDomains[f]).range([T+rowH,T]);
  const bw=36;
  groups.forEach((gn,gi)=>{
    const b=facetBoxes[f][gi],c=groupColors[gi],cx=x(gi);
    g.append("line").attr("x1",cx).attr("x2",cx).attr("y1",y(b[0])).attr("y2",y(b[4])).attr("stroke",c).attr("stroke-width",.8);
    g.append("rect").attr("x",cx-bw/2).attr("y",y(b[3])).attr("width",bw).attr("height",Math.max(y(b[1])-y(b[3]),.5))
      .attr("fill",c).attr("fill-opacity",gi==0?.22:gi==1?.6:.55).attr("stroke",c).attr("stroke-width",.9);
    g.append("line").attr("x1",cx-bw/2).attr("x2",cx+bw/2).attr("y1",y(b[2])).attr("y2",y(b[2])).attr("stroke",c).attr("stroke-width",1.2);
    facetPoints[f][gi].forEach((v,i)=>g.append("circle").attr("cx",cx+jitter[(i+gi*2)%9]*46).attr("cy",y(v)).attr("r",1.7).attr("fill",c));
  });
  g.append("rect").attr("x",L).attr("y",T).attr("width",R-L).attr("height",rowH).attr("fill","none").attr("stroke","#666").attr("stroke-width",1.1);
  facetTicks[f].forEach(t=>{g.append("line").attr("x1",L-2).attr("x2",L).attr("y1",y(t)).attr("y2",y(t)).attr("stroke","#555").attr("stroke-width",.5);
    addText(g,L-3,y(t)+2,d3.format(facetTickFmt[f]?".1f":"d")(t),5.8,{anchor:"end",fill:"#222"});});
  addText(g,(L+R)/2,T-4.8,name,6,{anchor:"middle",weight:"bold",fill:"#222"});
  if(f>=19){groups.forEach((gn,gi)=>{g.append("line").attr("x1",x(gi)).attr("x2",x(gi)).attr("y1",T+rowH).attr("y2",T+rowH+2).attr("stroke","#555").attr("stroke-width",.5);
    addText(g,x(gi)+2,T+rowH+6,gn,6,{anchor:"end",rot:-45,fill:"#222"});});}
  sigBars.filter(s=>s[0]===f).forEach(s=>{
    g.append("line").attr("x1",ux(s[2])).attr("x2",ux(s[3])).attr("y1",y(s[1])).attr("y2",y(s[1])).attr("stroke","#999").attr("stroke-width",.8);
    addText(g,ux(s[5]),y(s[1])+4,s[4],15,{anchor:"middle",fill:"#111"});
  });
});
addText(svg,39,725,"Proportion [%]",8.6,{anchor:"middle",rot:-90,fill:"#222"});

/* (D) */
const dg=svg.append("g");
const px=d3.scaleLinear().domain([0,5]).range([996.5,1126]);
const py=d3.scaleLinear().domain([0,5]).range([654,524.3]);
const rScale=d3.scaleSqrt().domain([0,4]).range([0,4.3]);
pcaYTicks.filter(t=>t!==0).forEach(t=>dg.append("line").attr("x1",780).attr("x2",1265).attr("y1",py(t)).attr("y2",py(t)).attr("stroke","#ececec").attr("stroke-width",1));
pcaXTicks.filter(t=>t!==0).forEach(t=>dg.append("line").attr("x1",px(t)).attr("x2",px(t)).attr("y1",478).attr("y2",783).attr("stroke","#efefef").attr("stroke-width",.8));
[[pcaYoung,0],[pcaOld,1],[pcaMDS,2]].forEach(([pts,i])=>pts.forEach(p=>dg.append("circle").attr("cx",px(p[0])).attr("cy",py(p[1])).attr("r",rScale(p[2])).attr("fill",pcaColors[i])));
dg.append("line").attr("x1",780).attr("x2",1266).attr("y1",py(0)).attr("y2",py(0)).attr("stroke","#333").attr("stroke-width",.9).attr("stroke-dasharray","4 3");
dg.append("line").attr("x1",px(0)).attr("x2",px(0)).attr("y1",478).attr("y2",783).attr("stroke","#333").attr("stroke-width",.9).attr("stroke-dasharray","4 3");
pcaLoadNames.forEach((n,i)=>{const c=clusterColor(n);
  dg.append("line").attr("x1",px(0)).attr("y1",py(0)).attr("x2",px(pcaLoadX[i])).attr("y2",py(pcaLoadY[i])).attr("stroke",c).attr("stroke-width",1.5);
  dg.append("circle").attr("cx",px(pcaLoadX[i])).attr("cy",py(pcaLoadY[i])).attr("r",1.3).attr("fill",c);});
pcaXTicks.forEach(t=>addText(dg,px(t),791,t,5.6,{anchor:"middle",fill:"#333"}));
pcaYTicks.forEach(t=>addText(dg,775,py(t)+2,d3.format(".1f")(t),5.6,{anchor:"end",fill:"#333"}));
addText(dg,1023,800,"PC 1 (39%)",8.4,{anchor:"middle",fill:"#333"});
addText(dg,759,630,"PC 2 (16%)",8.4,{anchor:"middle",rot:-90,fill:"#333"});
pcaGroups.forEach((n,i)=>{const yy=476+i*12;dg.append("circle").attr("cx",1194).attr("cy",yy).attr("r",4.8).attr("fill",pcaColors[i]);addText(dg,1209,yy+3,n,9,{fill:"#333"});});
/* biplot labels with superscripts */
const biLabels=[[957.7,607,[["mDC"]]],[983.8,603,[["T4 eff"]]],[1012,612,[["T8 eff"]]],[1107,615,[["T4 eff CD57"],["+",1]]],[1078,647,[["T8 CD57"],["+",1]]],[941,720.7,[["CD14"],["−",1],["CD38"],["+",1]]],[958.5,736.7,[["CD14"],["+",1],["CD38"],["+",1]]],[1052,728,[["CD14"],["dim",1],["CD38"],["dim",1]]],[987,747,[["CD14"],["dim",1],["CD16"],["+",1],["CD38"],["−",1]]]];
biLabels.forEach(([lx,ly,parts])=>{const t=dg.append("text").attr("transform",`translate(${lx},${ly}) scale(.86,1)`).style("font-size","11.5px");
  parts.forEach(p=>{const s=t.append("tspan").text(p[0]);if(p[1])s.style("font-size","6.5px").attr("dy",-4);else if(s.node().previousSibling)s.attr("dy",4);});});
addText(dg,756,815,"cluster_id",9.8,{fill:"#222"});
clusterNames.forEach((n,i)=>{const col=i<12?0:1,r=col?i-12:i,yy=826.3+r*10.57,x0=col?838:757;
  const c=clusterColor(n);
  dg.append("line").attr("x1",x0).attr("x2",x0+13).attr("y1",yy).attr("y2",yy).attr("stroke",c).attr("stroke-width",1.3);
  dg.append("path").attr("d",`M${x0+12},${yy-2}L${x0+15},${yy}L${x0+12},${yy+2}Z`).attr("fill",c);
  addText(dg,x0+(col?19:20),yy+2.9,n,8,{fill:"#222"});});
</script></body></html>
